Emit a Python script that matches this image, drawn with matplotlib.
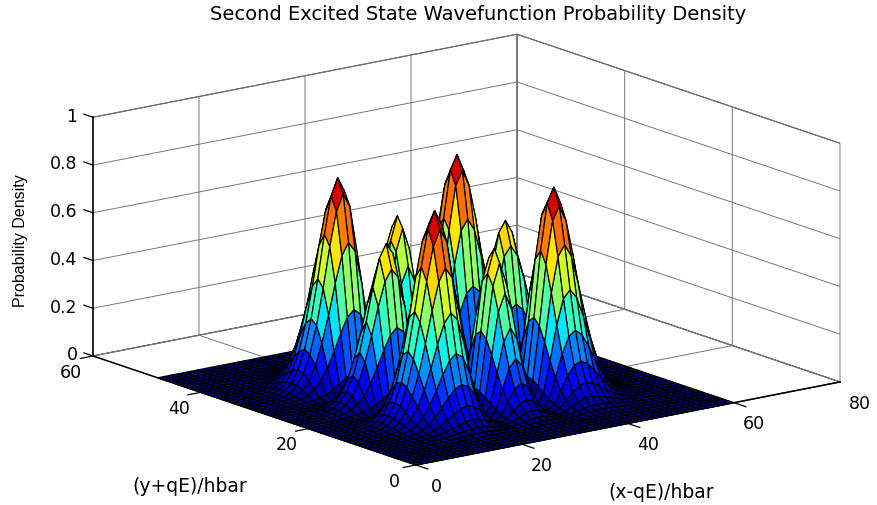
import numpy as np
import matplotlib
matplotlib.use("Agg")
import matplotlib.pyplot as plt
from mpl_toolkits.mplot3d import proj3d

# Values.
# The surface is approximated as height * profile(x) * profile(y): a 3x3 lobe pattern.
peak_height = 0.87
lobe_profile = [
    0.000, 0.000, 0.000, 0.001, 0.002, 0.004, 0.011, 0.025, 0.055, 0.111,
    0.205, 0.347, 0.533, 0.741, 0.918, 1.000, 0.931, 0.707, 0.392, 0.114,
    0.000, 0.108, 0.376, 0.648, 0.761, 0.648, 0.376, 0.108, 0.000, 0.114,
    0.392, 0.707, 0.931, 1.000, 0.918, 0.741, 0.533, 0.347, 0.205, 0.111,
    0.055, 0.025, 0.011, 0.004, 0.002, 0.001, 0.000, 0.000, 0.000,
]
x_end = 60
y_end = 48
color_top = 0.88
x_ticks = [0, 20, 40, 60, 80]
y_ticks = [0, 20, 40, 60]
z_ticks = [0, 0.2, 0.4, 0.6, 0.8, 1]
z_labels = ["0", "0.2", "0.4", "0.6", "0.8", "1"]
title = "Second Excited State Wavefunction Probability Density"

W, H = 878, 505
plt.rcParams["font.family"] = ["DejaVu Sans"]
fig = plt.figure(figsize=(W / 100, H / 100), dpi=100, facecolor="white")
ax = fig.add_axes([0, 0, 1, 1], projection="3d", proj_type="ortho")
ax.view_init(elev=14.9, azim=232.7)
ax.set_box_aspect((533, 533, 247))

profile = np.array(lobe_profile)
x = np.linspace(0, x_end, profile.size)
y = np.linspace(0, y_end, profile.size)
X, Y = np.meshgrid(x, y)
Z = peak_height * np.outer(profile, profile)

cmap = plt.get_cmap("jet", 64)
corner = (Z[:-1, :-1] + Z[1:, :-1] + Z[:-1, 1:] + Z[1:, 1:]) / 4
colors = cmap(corner / color_top)
ax.plot_surface(X, Y, Z, facecolors=colors, rstride=1, cstride=1, shade=False,
                edgecolor="black", linewidth=0.85, antialiased=True)

ax.set_xlim(0, 80, view_margin=0)
ax.set_ylim(0, 60, view_margin=0)
ax.set_zlim(0, 1, view_margin=0)
ax.set_xticks(x_ticks)
ax.set_yticks(y_ticks)
ax.set_zticks(z_ticks)
ax.set_zticklabels(z_labels)
ax.tick_params(axis="x", labelsize=12.5, pad=10)
ax.tick_params(axis="y", labelsize=12.5, pad=7)
ax.tick_params(axis="z", labelsize=12.5, pad=-2)

for axis in (ax.xaxis, ax.yaxis, ax.zaxis):
    axis.set_pane_color((1, 1, 1, 1))
    axis.pane.set_edgecolor("#444444")
    axis.pane.set_linewidth(0.8)
    axis.line.set_color("black")
    axis.line.set_linewidth(1.1)
    axis._axinfo["grid"].update(color="#777777", linewidth=0.7, linestyle="-")
    axis._axinfo["tick"].update(inward_factor=0.0, outward_factor=0.0)

for t in ax.xaxis.get_major_ticks() + ax.yaxis.get_major_ticks():
    t.label1.set_va("center")
for t in ax.zaxis.get_major_ticks():
    t.label1.set_ha("right")
    t.label1.set_va("center")

# Tick marks, pointing away from the box as in the reference.
tick_style = dict(color="black", linewidth=0.9)
for v in x_ticks:
    ax.plot([v, v], [0, -2.2], [0, 0], **tick_style)
for v in y_ticks:
    ax.plot([0, -2.4], [v, v], [0, 0], **tick_style)
for v in z_ticks:
    ax.plot([0, 0], [60, 61.7], [v, v], **tick_style)
ax.set_xlim(0, 80, view_margin=0)
ax.set_ylim(0, 60, view_margin=0)
ax.set_zlim(0, 1, view_margin=0)


def px(pt):
    a, b, _ = proj3d.proj_transform(*pt, ax.get_proj())
    u, v = ax.transData.transform((a, b))
    return u, v


# Fit the box so its front floor edge lies where it does in the reference.
front, right = (0, 0, 0), (80, 0, 0)
target_front = np.array([416, H - 465.0])
target_right = np.array([840, H - 382.0])
fig.canvas.draw()
pf, pr = np.array(px(front)), np.array(px(right))
scale = np.linalg.norm(target_right - target_front) / np.linalg.norm(pr - pf)
side = min(W, H) * scale
ax.set_position([0, 0, side / W, side / H])
fig.canvas.draw()
pf = np.array(px(front))
shift = target_front - pf
ax.set_position([shift[0] / W, shift[1] / H, side / W, side / H])

fig.text(478 / W, 1 - 14 / H, title, ha="center", va="center", fontsize=14)
fig.text(661 / W, 1 - 493 / H, "(x-qE)/hbar", ha="center", va="center", fontsize=13.5)
fig.text(190 / W, 1 - 487 / H, "(y+qE)/hbar", ha="center", va="center", fontsize=13.5)
fig.text(21 / W, 1 - 241 / H, "Probability Density", ha="center", va="center",
         rotation=90, fontsize=11.5, family=["Liberation Sans", "DejaVu Sans"])

fig.savefig("out.png", dpi=100)
